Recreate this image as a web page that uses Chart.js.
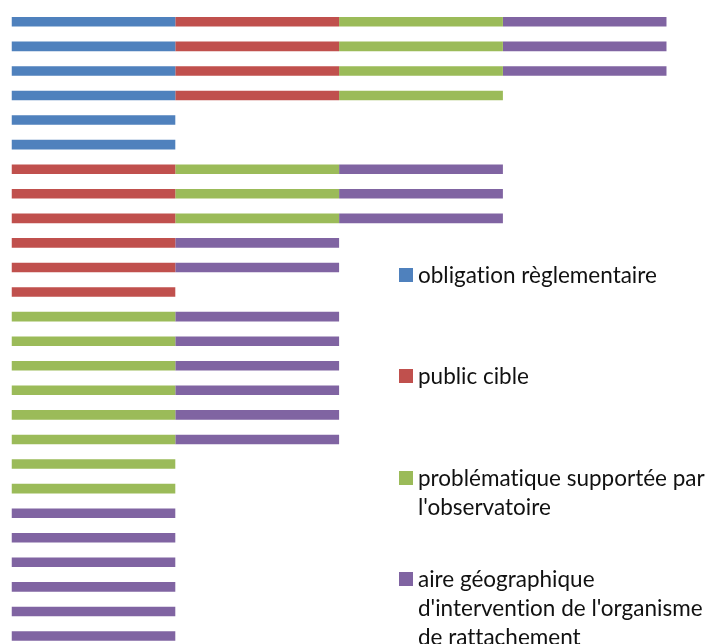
<!DOCTYPE html>
<html>
<head>
<meta charset="utf-8">
<script src="https://cdn.jsdelivr.net/npm/chart.js@4/dist/chart.umd.min.js"></script>
<style>
  html, body { margin: 0; padding: 0; background: #fff; overflow: hidden; }
  #wrap { position: relative; width: 708px; height: 650px; }
  #legend { position: absolute; left: 0; top: 0; font-family: Lato, "Open Sans", sans-serif; font-size: 22.5px; color: #111; font-variant-ligatures: none; }
  .item { position: absolute; left: 399px; display: flex; align-items: flex-start; white-space: nowrap; line-height: 29px; }
  .box { width: 14px; height: 14px; margin-top: 8px; margin-right: 5px; flex: none; }
</style>
</head>
<body>
<div id="wrap">
  <canvas id="chart" width="708" height="650"></canvas>
  <div id="legend"></div>
</div>
<script>
// one row per observatory (top to bottom), 1 = criterion used
const rows = ["1","2","3","4","5","6","7","8","9","10","11","12","13","14","15","16","17","18","19","20","21","22","23","24","25","26"];
const seriesNames = ["obligation règlementaire", "public cible", "problématique supportée par l'observatoire", "aire géographique d'intervention de l'organisme de rattachement"];
const legendLines = [
  ["obligation règlementaire"],
  ["public cible"],
  ["problématique supportée par", "l'observatoire"],
  ["aire géographique", "d'intervention de l'organisme", "de rattachement"]
];
const obligation = [1,1,1,1,1,1,0,0,0,0,0,0,0,0,0,0,0,0,0,0,0,0,0,0,0,0];
const publicCible = [1,1,1,1,0,0,1,1,1,1,1,1,0,0,0,0,0,0,0,0,0,0,0,0,0,0];
const problematique = [1,1,1,1,0,0,1,1,1,0,0,0,1,1,1,1,1,1,1,1,0,0,0,0,0,0];
const aireGeo = [1,1,1,0,0,0,1,1,1,1,1,0,1,1,1,1,1,1,0,0,1,1,1,1,1,1];
const colors = ["#4F81BD", "#C0504D", "#9BBB59", "#8064A2"];

const seriesData = [obligation, publicCible, problematique, aireGeo];

const chart = new Chart(document.getElementById("chart").getContext("2d"), {
  type: "bar",
  data: {
    labels: rows,
    datasets: seriesData.map((d, i) => ({
      label: seriesNames[i],
      data: d,
      backgroundColor: colors[i],
      borderWidth: 0,
      categoryPercentage: 1,
      barPercentage: 0.39,
    })),
  },
  options: {
    indexAxis: "y",
    responsive: false,
    animation: false,
    layout: { padding: { left: 11.5, right: 41.3, top: 9.5, bottom: 1.7 } },
    plugins: { legend: { display: false }, tooltip: { enabled: false } },
    scales: {
      x: { stacked: true, min: 0, max: 4, display: false },
      y: { stacked: true, display: false },
    },
  },
});

// legend on the right, as in the original
const tops = [260, 361, 463, 564];
const legend = document.getElementById("legend");
chart.data.datasets.forEach((ds, i) => {
  const item = document.createElement("div");
  item.className = "item";
  item.style.top = tops[i] + "px";
  const box = document.createElement("span");
  box.className = "box";
  box.style.background = ds.backgroundColor;
  const txt = document.createElement("span");
  txt.innerHTML = legendLines[i].join("<br>");
  item.appendChild(box);
  item.appendChild(txt);
  legend.appendChild(item);
});
</script>
</body>
</html>
